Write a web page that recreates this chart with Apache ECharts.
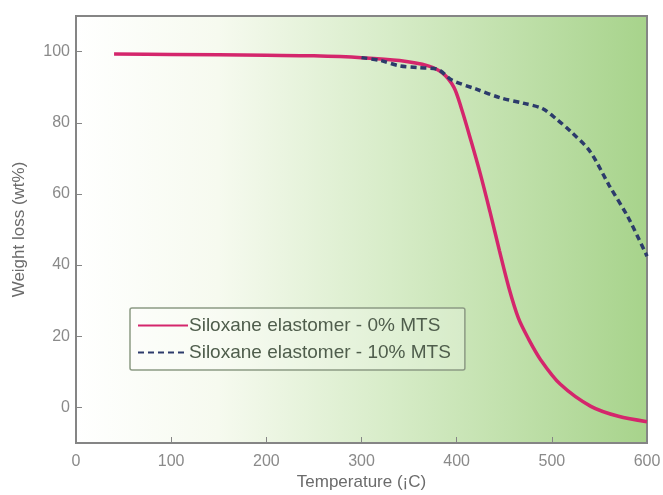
<!DOCTYPE html>
<html>
<head>
<meta charset="utf-8">
<script src="https://cdn.jsdelivr.net/npm/echarts@6/dist/echarts.min.js"></script>
<style>
  html, body { margin: 0; padding: 0; background: #ffffff; }
  #chart { width: 663px; height: 495px; }
</style>
</head>
<body>
<div id="chart"></div>
<script>
// Siloxane elastomer - 0% MTS  [temperature, weight]
const temp0 = [40, 100, 200, 250, 300, 340, 370, 385, 397, 405, 415, 425, 435, 445, 455, 465, 475, 488, 509, 541, 570, 600]
const weight0 = [99.3, 99.2, 99.0, 98.8, 98.3, 97.5, 96, 94, 90, 84, 75, 65.5, 55, 44, 33.5, 25, 19.5, 13.5, 6.5, 0.3, -2.5, -4]

// Siloxane elastomer - 10% MTS
const temp10 = [300, 320, 340, 360, 380, 395, 420, 446, 470, 490, 505, 520, 540, 560, 580, 600]
const weight10 = [98.3, 97.5, 96, 95.5, 95, 92, 89.5, 87, 85.5, 84, 81, 77.5, 72, 62.5, 53.5, 42.5]

const xTicks = [0, 100, 200, 300, 400, 500, 600]
const yTicks = [0, 20, 40, 60, 80, 100]

const seriesNames = ['Siloxane elastomer - 0% MTS', 'Siloxane elastomer - 10% MTS']

const chart = echarts.init(document.getElementById('chart'), null, { renderer: 'canvas' })

const axisGray = '#858585'
const labelGray = '#8a8a8a'
const font = 'Liberation Sans, Arial, sans-serif'

chart.setOption({
  animation: false,
  grid: {
    left: 76, right: 16, top: 16, bottom: 52,
    outerBoundsMode: 'none',
    show: true,
    borderColor: axisGray,
    borderWidth: 2,
    backgroundColor: new echarts.graphic.LinearGradient(0, 0, 1, 0, [
      { offset: 0, color: '#ffffff' },
      { offset: 0.25, color: '#f6faef' },
      { offset: 0.55, color: '#d7ecc8' },
      { offset: 1, color: '#a7d38b' },
    ]),
  },
  legend: {
    orient: 'vertical',
    left: 130, top: 308,
    padding: [8, 14, 8, 7],
    itemGap: 8,
    itemWidth: 50,
    itemHeight: 16,
    borderColor: '#8c9a84',
    borderWidth: 1.5,
    borderRadius: 2,
    backgroundColor: 'rgba(255,255,255,0.25)',
    itemStyle: { color: 'rgba(0,0,0,0)', borderWidth: 0 },
    textStyle: { color: '#4f5d4c', fontSize: 19, fontFamily: font, padding: [0, 0, 0, -4] },
    data: seriesNames,
  },
  xAxis: {
    type: 'value',
    min: 0, max: 600, interval: 100,
    name: 'Temperature (¡C)',
    nameLocation: 'middle',
    nameGap: 31,
    nameMoveOverlap: false,
    nameTextStyle: { color: '#6b6b6b', fontSize: 17, fontFamily: font },
    axisLine: { onZero: false, lineStyle: { color: axisGray, width: 2 } },
    axisTick: { show: true, inside: true, length: 6, lineStyle: { color: axisGray, width: 1 }, customValues: xTicks.slice(1, -1) },
    axisLabel: { color: labelGray, fontSize: 16, fontFamily: font, margin: 11, customValues: xTicks },
    splitLine: { show: false },
  },
  yAxis: {
    type: 'value',
    min: -10, max: 110,
    name: 'Weight loss (wt%)',
    nameLocation: 'middle',
    nameGap: 48,
    nameMoveOverlap: false,
    nameTextStyle: { color: '#6b6b6b', fontSize: 17, fontFamily: font },
    axisLine: { onZero: false, lineStyle: { color: axisGray, width: 2 } },
    axisTick: { show: true, inside: true, length: 6, lineStyle: { color: axisGray, width: 1 }, customValues: yTicks },
    axisLabel: { color: labelGray, fontSize: 16, fontFamily: font, margin: 6, customValues: yTicks },
    splitLine: { show: false },
  },
  series: [
    {
      name: seriesNames[0],
      type: 'line',
      smooth: 0.3,
      symbol: 'none',
      data: temp0.map((t, i) => [t, weight0[i]]),
      lineStyle: { color: '#d4266c', width: 3.5 },
      itemStyle: { color: '#d4266c' },
      z: 2,
    },
    {
      name: seriesNames[1],
      type: 'line',
      smooth: 0.3,
      symbol: 'none',
      data: temp10.map((t, i) => [t, weight10[i]]),
      lineStyle: { color: '#2c3b6b', width: 3.5, type: [6, 4] },
      itemStyle: { color: '#2c3b6b' },
      z: 3,
    },
  ],
})
</script>
</body>
</html>
